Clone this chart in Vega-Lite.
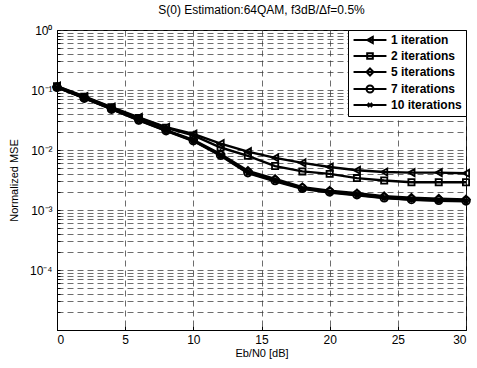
{
  "$schema": "https://vega.github.io/schema/vega-lite/v6.json",
  "width": 409,
  "height": 300,
  "autosize": {"type": "none"},
  "padding": {"left": 57, "top": 30, "right": 11, "bottom": 38},
  "background": "white",
  "title": {"text": "S(0) Estimation:64QAM, f3dB/Δf=0.5%", "anchor": "middle", "frame": "group", "offset": 7, "fontSize": 12, "fontWeight": "normal", "font": "Liberation Sans", "color": "black"},
  "config": {
    "view": {"stroke": "black", "strokeWidth": 1},
    "axis": {"labelFont": "Liberation Sans", "titleFont": "Liberation Sans", "labelFontSize": 12, "titleFontSize": 11, "titleFontWeight": "normal", "labelColor": "black", "titleColor": "black", "domainColor": "black", "tickColor": "black", "gridColor": "#333", "gridDash": [6, 4], "gridWidth": 0.9, "gridOpacity": 0.8},
    "legend": {"labelFont": "Liberation Sans", "labelFontSize": 12, "labelColor": "black"}
  },
  "data": {"values": [
    {"dB": 0, "series": "1 iteration", "mse": 0.116},
    {"dB": 2, "series": "1 iteration", "mse": 0.078},
    {"dB": 4, "series": "1 iteration", "mse": 0.052},
    {"dB": 6, "series": "1 iteration", "mse": 0.035},
    {"dB": 8, "series": "1 iteration", "mse": 0.024},
    {"dB": 10, "series": "1 iteration", "mse": 0.0185},
    {"dB": 12, "series": "1 iteration", "mse": 0.0128},
    {"dB": 14, "series": "1 iteration", "mse": 0.0094},
    {"dB": 16, "series": "1 iteration", "mse": 0.0074},
    {"dB": 18, "series": "1 iteration", "mse": 0.0061},
    {"dB": 20, "series": "1 iteration", "mse": 0.0052},
    {"dB": 22, "series": "1 iteration", "mse": 0.0046},
    {"dB": 24, "series": "1 iteration", "mse": 0.0043},
    {"dB": 26, "series": "1 iteration", "mse": 0.0042},
    {"dB": 28, "series": "1 iteration", "mse": 0.0042},
    {"dB": 30, "series": "1 iteration", "mse": 0.0041},
    {"dB": 0, "series": "2 iterations", "mse": 0.115},
    {"dB": 2, "series": "2 iterations", "mse": 0.077},
    {"dB": 4, "series": "2 iterations", "mse": 0.051},
    {"dB": 6, "series": "2 iterations", "mse": 0.034},
    {"dB": 8, "series": "2 iterations", "mse": 0.0235},
    {"dB": 10, "series": "2 iterations", "mse": 0.0175},
    {"dB": 12, "series": "2 iterations", "mse": 0.011},
    {"dB": 14, "series": "2 iterations", "mse": 0.008},
    {"dB": 16, "series": "2 iterations", "mse": 0.0054},
    {"dB": 18, "series": "2 iterations", "mse": 0.0044},
    {"dB": 20, "series": "2 iterations", "mse": 0.004},
    {"dB": 22, "series": "2 iterations", "mse": 0.0034},
    {"dB": 24, "series": "2 iterations", "mse": 0.0031},
    {"dB": 26, "series": "2 iterations", "mse": 0.0029},
    {"dB": 28, "series": "2 iterations", "mse": 0.0029},
    {"dB": 30, "series": "2 iterations", "mse": 0.0029},
    {"dB": 0, "series": "5 iterations", "mse": 0.112},
    {"dB": 2, "series": "5 iterations", "mse": 0.074},
    {"dB": 4, "series": "5 iterations", "mse": 0.049},
    {"dB": 6, "series": "5 iterations", "mse": 0.032},
    {"dB": 8, "series": "5 iterations", "mse": 0.0215},
    {"dB": 10, "series": "5 iterations", "mse": 0.0148},
    {"dB": 12, "series": "5 iterations", "mse": 0.0086},
    {"dB": 14, "series": "5 iterations", "mse": 0.0045},
    {"dB": 16, "series": "5 iterations", "mse": 0.0033},
    {"dB": 18, "series": "5 iterations", "mse": 0.0024},
    {"dB": 20, "series": "5 iterations", "mse": 0.0021},
    {"dB": 22, "series": "5 iterations", "mse": 0.0019},
    {"dB": 24, "series": "5 iterations", "mse": 0.0017},
    {"dB": 26, "series": "5 iterations", "mse": 0.0016},
    {"dB": 28, "series": "5 iterations", "mse": 0.00155},
    {"dB": 30, "series": "5 iterations", "mse": 0.0015},
    {"dB": 0, "series": "7 iterations", "mse": 0.111},
    {"dB": 2, "series": "7 iterations", "mse": 0.073},
    {"dB": 4, "series": "7 iterations", "mse": 0.048},
    {"dB": 6, "series": "7 iterations", "mse": 0.0315},
    {"dB": 8, "series": "7 iterations", "mse": 0.021},
    {"dB": 10, "series": "7 iterations", "mse": 0.0143},
    {"dB": 12, "series": "7 iterations", "mse": 0.0082},
    {"dB": 14, "series": "7 iterations", "mse": 0.0042},
    {"dB": 16, "series": "7 iterations", "mse": 0.0031},
    {"dB": 18, "series": "7 iterations", "mse": 0.0023},
    {"dB": 20, "series": "7 iterations", "mse": 0.002},
    {"dB": 22, "series": "7 iterations", "mse": 0.0018},
    {"dB": 24, "series": "7 iterations", "mse": 0.0016},
    {"dB": 26, "series": "7 iterations", "mse": 0.0015},
    {"dB": 28, "series": "7 iterations", "mse": 0.00145},
    {"dB": 30, "series": "7 iterations", "mse": 0.00142},
    {"dB": 0, "series": "10 iterations", "mse": 0.111},
    {"dB": 2, "series": "10 iterations", "mse": 0.073},
    {"dB": 4, "series": "10 iterations", "mse": 0.048},
    {"dB": 6, "series": "10 iterations", "mse": 0.0312},
    {"dB": 8, "series": "10 iterations", "mse": 0.0208},
    {"dB": 10, "series": "10 iterations", "mse": 0.0141},
    {"dB": 12, "series": "10 iterations", "mse": 0.008},
    {"dB": 14, "series": "10 iterations", "mse": 0.0041},
    {"dB": 16, "series": "10 iterations", "mse": 0.003},
    {"dB": 18, "series": "10 iterations", "mse": 0.00225},
    {"dB": 20, "series": "10 iterations", "mse": 0.00195},
    {"dB": 22, "series": "10 iterations", "mse": 0.00175},
    {"dB": 24, "series": "10 iterations", "mse": 0.00158},
    {"dB": 26, "series": "10 iterations", "mse": 0.00148},
    {"dB": 28, "series": "10 iterations", "mse": 0.00142},
    {"dB": 30, "series": "10 iterations", "mse": 0.0014}
  ]},
  "encoding": {
    "x": {"field": "dB", "type": "quantitative", "scale": {"domain": [0, 30], "nice": false},
      "axis": {"title": "Eb/N0 [dB]", "values": [0, 5, 10, 15, 20, 25, 30], "tickSize": -4, "labelPadding": 8, "titlePadding": 2, "grid": true}},
    "y": {"field": "mse", "type": "quantitative", "scale": {"type": "log", "domain": [0.00001, 1], "nice": false},
      "axis": {"title": "Normalized MSE", "titlePadding": 10, "tickSize": -3, "labelPadding": 8, "grid": true,
        "values": [0.00001, 0.00002, 0.00003, 0.00004, 0.00005, 0.00006, 0.00007, 0.00008, 0.00009, 0.0001, 0.0002, 0.0003, 0.0004, 0.0005, 0.0006, 0.0007, 0.0008, 0.0009, 0.001, 0.002, 0.003, 0.004, 0.005, 0.006, 0.007, 0.008, 0.009, 0.01, 0.02, 0.03, 0.04, 0.05, 0.06, 0.07, 0.08, 0.09, 0.1, 0.2, 0.3, 0.4, 0.5, 0.6, 0.7, 0.8, 0.9, 1],
        "labelExpr": "datum.value == 1 ? '10⁰' : datum.value == 0.1 ? '10⁻¹' : datum.value == 0.01 ? '10⁻²' : datum.value == 0.001 ? '10⁻³' : datum.value == 0.0001 ? '10⁻⁴' : ''"}}
  },
  "layer": [
    {
      "mark": {"type": "line", "color": "black", "strokeWidth": 2.4},
      "encoding": {"detail": {"field": "series"}}
    },
    {
      "mark": {"type": "point", "filled": false, "stroke": "black", "strokeWidth": 1.8, "size": 60, "opacity": 1},
      "encoding": {
        "shape": {"field": "series", "type": "nominal", "legend": null,
          "scale": {"domain": ["1 iteration", "2 iterations", "5 iterations", "7 iterations", "10 iterations"],
            "range": ["M0.8,-0.9L-0.8,0L0.8,0.9Z", "M-0.8,-0.8H0.8V0.8H-0.8Z", "M0,-1L1,0L0,1L-1,0Z", "M1,0A1,1,0,1,1,-1,0A1,1,0,1,1,1,0Z", "M-0.6,-0.6L0.6,0.6M-0.6,0.6L0.6,-0.6"]}}
      }
    },
    {
      "mark": {"type": "point", "filled": false, "stroke": "black", "strokeWidth": 1.8, "size": 49, "opacity": 0},
      "encoding": {
        "shape": {"field": "series", "type": "nominal",
          "scale": {"domain": ["1 iteration", "2 iterations", "5 iterations", "7 iterations", "10 iterations"],
            "range": ["M-4.7,0H4.7M0.8,-0.9L-0.8,0L0.8,0.9Z", "M-4.7,0H4.7M-0.8,-0.8H0.8V0.8H-0.8Z", "M-4.7,0H4.7M0,-1L1,0L0,1L-1,0Z", "M-4.7,0H4.7M1,0A1,1,0,1,1,-1,0A1,1,0,1,1,1,0Z", "M-4.7,0H4.7M-0.6,-0.6L0.6,0.6M-0.6,0.6L0.6,-0.6"]},
          "legend": {"title": null, "orient": "top-right", "offset": 0, "padding": 4, "strokeColor": "black", "fillColor": "white",
            "symbolSize": 49, "symbolOpacity": 1, "symbolStrokeColor": "black", "symbolStrokeWidth": 2, "symbolFillColor": "transparent",
            "symbolOffset": 12, "labelOffset": 15, "rowPadding": 1, "labelFontSize": 12, "labelFontWeight": "bold"}}
      }
    }
  ],
  "resolve": {"scale": {"shape": "independent"}}
}
